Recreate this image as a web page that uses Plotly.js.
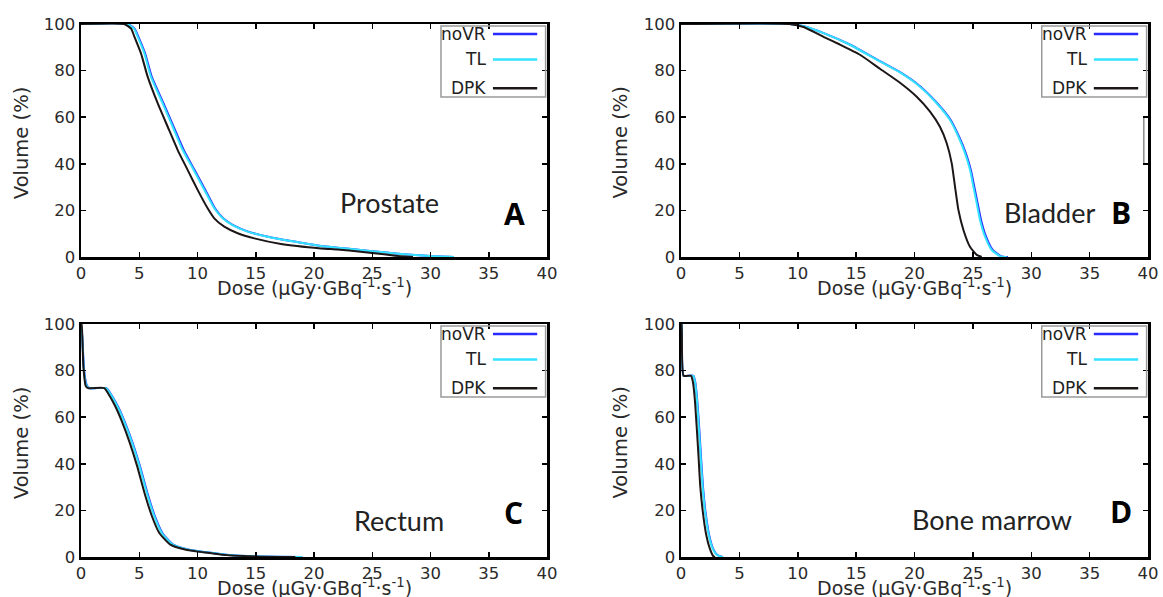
<!DOCTYPE html>
<html>
<head>
<meta charset="utf-8">
<script src="https://cdn.plot.ly/plotly-3.0.1.min.js"></script>
<style>html,body{margin:0;padding:0;background:#fff;}#chart{width:1163px;height:597px;}</style>
</head>
<body>
<div id="chart"></div>
<script>
// ---------------- DATA ----------------
const seriesNames = ["noVR", "TL", "DPK"];
const organNames = ["Prostate", "Bladder", "Rectum", "Bone marrow"];
const panelLetters = ["A", "B", "C", "D"];
const xTitleText = "Dose (µGy·GBq<sup>-1</sup>·s<sup>-1</sup>)";
const yTitleText = "Volume (%)";
const xTicks = [0, 5, 10, 15, 20, 25, 30, 35, 40];
const yTicks = [0, 20, 40, 60, 80, 100];

// A - Prostate
const prostateDoseDPK = [0, 3.7, 4.3, 4.58, 5.15, 5.72, 6.58, 7.44, 8.30, 9.16, 10.01, 10.87, 11.44, 12.30, 13.45, 14.88, 17.17, 20.6, 22, 24, 26, 27.5, 28.5];
const prostateVolDPK  = [100, 100, 98, 94.6, 87.4, 77.4, 66.0, 55.9, 45.9, 37.3, 28.8, 20.9, 16.6, 13.0, 10.2, 8.0, 5.6, 3.7, 3.2, 2.3, 1.2, 0.3, 0];
const prostateDoseTL  = [0, 3.95, 4.55, 4.86, 5.44, 6.0, 7.0, 7.87, 8.73, 9.67, 10.59, 11.44, 12.16, 13.0, 14.3, 16.0, 20.6, 22, 24, 26, 28, 30, 32];
const prostateVolTL   = [100, 100, 98, 94.6, 87.4, 77.4, 66.0, 55.9, 45.9, 37.3, 28.8, 20.9, 16.6, 13.7, 10.9, 8.7, 4.7, 4.0, 3.0, 2.0, 1.1, 0.4, 0];
const prostateDoseNoVR = [0, 4.0, 4.6, 4.92, 5.5, 6.07, 7.08, 7.95, 8.82, 9.75, 10.67, 11.5, 12.2, 13.05, 14.35, 16.05, 20.6, 22, 24, 26, 28, 30, 32];
const prostateVolNoVR  = [100, 100, 98, 94.6, 87.4, 77.4, 66.0, 55.9, 45.9, 37.3, 28.8, 20.9, 16.6, 13.7, 10.9, 8.7, 4.7, 4.0, 3.0, 2.0, 1.1, 0.4, 0];

// B - Bladder
const bladderDoseDPK = [0, 9.3, 10.5, 12.2, 13.6, 15.33, 17.04, 18.76, 20.19, 21.33, 22.18, 22.76, 23.19, 23.47, 23.76, 24.19, 24.75, 25.33, 25.76];
const bladderVolDPK  = [100, 100, 98.7, 94.5, 91.2, 86.8, 80.8, 74.8, 68.8, 62.4, 55.9, 48.8, 40.2, 30.2, 20.2, 11.6, 4.4, 0.9, 0];
const bladderDoseTL  = [0, 9.3, 10.5, 12.2, 14.47, 16.76, 18.76, 20.47, 21.9, 23.04, 23.76, 24.33, 24.76, 25.04, 25.33, 25.61, 26.04, 26.61, 27.33, 27.9];
const bladderVolTL   = [100, 100, 99.0, 96.1, 91.1, 84.7, 79.2, 73.1, 66.0, 58.8, 51.6, 44.5, 37.3, 30.2, 23.0, 15.9, 8.7, 3.0, 0.4, 0];
const bladderDoseNoVR = [0, 9.3, 10.5, 12.22, 14.5, 16.8, 18.8, 20.52, 21.95, 23.1, 23.82, 24.4, 24.83, 25.12, 25.41, 25.7, 26.13, 26.7, 27.4, 28.0];
const bladderVolNoVR  = [100, 100, 99.0, 96.1, 91.1, 84.7, 79.2, 73.1, 66.0, 58.8, 51.6, 44.5, 37.3, 30.2, 23.0, 15.9, 8.7, 3.0, 0.4, 0];

// C - Rectum
const rectumDoseDPK = [0, 0.05, 0.2, 0.4, 0.6, 2.0, 2.28, 2.92, 3.55, 4.18, 4.82, 5.45, 6.09, 6.72, 7.67, 8.94, 10.52, 12.1, 14.6, 18.4];
const rectumVolDPK  = [100, 100, 82, 73.5, 72.5, 72.5, 70.6, 64.9, 57.7, 49.1, 39.0, 27.5, 17.5, 10.3, 5.3, 3.2, 2.0, 1.0, 0.3, 0];
const rectumDoseTL  = [0, 0.1, 0.25, 0.45, 0.7, 2.15, 2.45, 3.1, 3.74, 4.38, 5.02, 5.65, 6.29, 6.93, 7.88, 9.15, 10.75, 12.4, 15.0, 19.0];
const rectumVolTL   = [100, 95, 80, 74, 72.5, 72.5, 70.6, 64.9, 57.7, 49.1, 39.0, 27.5, 17.5, 10.3, 5.3, 3.2, 2.0, 1.0, 0.3, 0];
const rectumDoseNoVR = [0, 0.1, 0.27, 0.48, 0.72, 2.18, 2.48, 3.14, 3.78, 4.42, 5.06, 5.7, 6.34, 6.98, 7.92, 9.2, 10.8, 12.45, 15.0, 19.0];
const rectumVolNoVR  = [100, 95, 80, 74, 72.5, 72.5, 70.6, 64.9, 57.7, 49.1, 39.0, 27.5, 17.5, 10.3, 5.3, 3.2, 2.0, 1.0, 0.3, 0];

// D - Bone marrow
const marrowDoseDPK = [0, 0.05, 0.22, 0.86, 1.02, 1.18, 1.34, 1.50, 1.65, 1.88, 2.13, 2.45, 2.77, 2.92];
const marrowVolDPK  = [100, 100, 77.8, 77.8, 75.1, 67.9, 56.2, 43.3, 30.4, 18.9, 10.3, 3.9, 0.3, 0];
const marrowDoseTL  = [0, 0.05, 0.22, 1.05, 1.2, 1.36, 1.52, 1.68, 1.85, 2.08, 2.4, 2.7, 3.0, 3.4, 3.6];
const marrowVolTL   = [100, 100, 77.8, 77.8, 75.1, 67.9, 56.2, 43.3, 30.4, 18.9, 9.0, 3.8, 1.2, 0.2, 0];
const marrowDoseNoVR = [0, 0.05, 0.22, 1.07, 1.22, 1.38, 1.55, 1.71, 1.88, 2.11, 2.43, 2.73, 3.03, 3.42, 3.6];
const marrowVolNoVR  = [100, 100, 77.8, 77.8, 75.1, 67.9, 56.2, 43.3, 30.4, 18.9, 9.0, 3.8, 1.2, 0.2, 0];

const seriesColors = {noVR: "#2a2aff", TL: "#33e3ff", DPK: "#1c1616"};

// ---------------- BUILD ----------------
const panels = [
  {ax: "", organ: organNames[0], letter: panelLetters[0], noVR: [prostateDoseNoVR, prostateVolNoVR], TL: [prostateDoseTL, prostateVolTL], DPK: [prostateDoseDPK, prostateVolDPK]},
  {ax: "2", organ: organNames[1], letter: panelLetters[1], noVR: [bladderDoseNoVR, bladderVolNoVR], TL: [bladderDoseTL, bladderVolTL], DPK: [bladderDoseDPK, bladderVolDPK]},
  {ax: "3", organ: organNames[2], letter: panelLetters[2], noVR: [rectumDoseNoVR, rectumVolNoVR], TL: [rectumDoseTL, rectumVolTL], DPK: [rectumDoseDPK, rectumVolDPK]},
  {ax: "4", organ: organNames[3], letter: panelLetters[3], noVR: [marrowDoseNoVR, marrowVolNoVR], TL: [marrowDoseTL, marrowVolTL], DPK: [marrowDoseDPK, marrowVolDPK]}
];

const W = 1163, H = 597;
const xDomLeft = [81 / W, 547 / W], xDomRight = [681 / W, 1148 / W];
const yDomTop = [1 - 257 / H, 1 - 24 / H], yDomBot = [1 - 557 / H, 1 - 324 / H];
const domains = [[xDomLeft, yDomTop], [xDomRight, yDomTop], [xDomLeft, yDomBot], [xDomRight, yDomBot]];

// per-panel annotation positions in axis-domain units [organX, organY, letterX, letterY]
const labelPos = [[0.663, 0.236, 0.931, 0.185], [0.790, 0.189, 0.942, 0.189], [0.682, 0.155, 0.929, 0.189], [0.666, 0.159, 0.942, 0.197]];
const yTitleX = [-0.128, -0.129, -0.128, -0.129];

const axisFont = "'DejaVu Sans', Verdana, sans-serif";
const labelFont = "Lato, 'Open Sans', sans-serif";
const traces = [];
const layout = {
  width: W, height: H,
  margin: {l: 0, r: 0, t: 0, b: 0},
  paper_bgcolor: "#ffffff", plot_bgcolor: "#ffffff",
  showlegend: false,
  annotations: [], shapes: []
};

panels.forEach((p, i) => {
  const xa = "x" + p.ax, ya = "y" + p.ax;
  seriesNames.forEach(s => {
    traces.push({
      type: "scatter", mode: "lines", name: s,
      x: p[s][0], y: p[s][1], xaxis: xa, yaxis: ya,
      line: {color: seriesColors[s], width: 2, shape: "spline", smoothing: 0.5},
      showlegend: false, hoverinfo: "skip"
    });
  });
  const axCommon = {
    showgrid: false, zeroline: false, showline: true, mirror: "allticks",
    linecolor: "#000", linewidth: 2.5, ticks: "inside", ticklen: 5, tickwidth: 1.5, tickcolor: "#000",
    tickfont: {family: axisFont, size: 16.5, color: "#2a2a2a"}, fixedrange: true
  };
  layout["xaxis" + p.ax] = Object.assign({}, axCommon, {
    domain: domains[i][0], anchor: ya, range: [0, 40], tickmode: "array", tickvals: xTicks
  });
  layout["yaxis" + p.ax] = Object.assign({}, axCommon, {
    domain: domains[i][1], anchor: xa, range: [0, 100], tickmode: "array", tickvals: yTicks
  });
  const xr = xa + " domain", yr = ya + " domain";
  // axis titles
  layout.annotations.push({xref: xr, yref: yr, x: 0.5, y: -0.128, text: xTitleText, showarrow: false, xanchor: "center", yanchor: "middle",
    font: {family: axisFont, size: 19, color: "#2a2a2a"}});
  layout.annotations.push({xref: xr, yref: yr, x: yTitleX[i], y: 0.49, text: yTitleText, showarrow: false, textangle: -90, xanchor: "center", yanchor: "middle",
    font: {family: axisFont, size: 19.5, color: "#2a2a2a"}});
  // organ name and panel letter
  const lp = labelPos[i];
  layout.annotations.push({xref: xr, yref: yr, x: lp[0], y: lp[1], text: p.organ, showarrow: false, xanchor: "center", yanchor: "middle",
    font: {family: labelFont, size: 27, color: "#222"}});
  layout.annotations.push({xref: xr, yref: yr, x: lp[2], y: lp[3], text: "<b>" + p.letter + "</b>", showarrow: false, xanchor: "center", yanchor: "middle",
    font: {family: "'Open Sans', 'Noto Sans', sans-serif", size: 30, color: "#000"}});
  // custom legend: text on left, line sample on right
  layout.shapes.push({type: "rect", xref: xr, yref: yr, x0: 0.7725, x1: 0.997, y0: 0.687, y1: 0.991,
    line: {color: "#9a9a9a", width: 1.5}, fillcolor: "rgba(255,255,255,0)"});
  const rowY = [0.957, 0.848, 0.724];
  seriesNames.forEach((s, k) => {
    layout.shapes.push({type: "line", xref: xr, yref: yr, x0: 0.884, x1: 0.979, y0: rowY[k], y1: rowY[k],
      line: {color: seriesColors[s], width: 2.5}});
    layout.annotations.push({xref: xr, yref: yr, x: 0.873, y: rowY[k], text: s, showarrow: false, xanchor: "right", yanchor: "middle",
      font: {family: axisFont, size: 17, color: "#222"}});
  });
});

// stray vertical mark in panel B (present in the original figure)
layout.shapes.push({type: "line", xref: "x2 domain", yref: "y2 domain", x0: 0.991, x1: 0.991, y0: 0.403, y1: 0.597,
  line: {color: "#8a8a8a", width: 1.5}});

Plotly.newPlot("chart", traces, layout, {displayModeBar: false, staticPlot: true});
</script>
</body>
</html>
